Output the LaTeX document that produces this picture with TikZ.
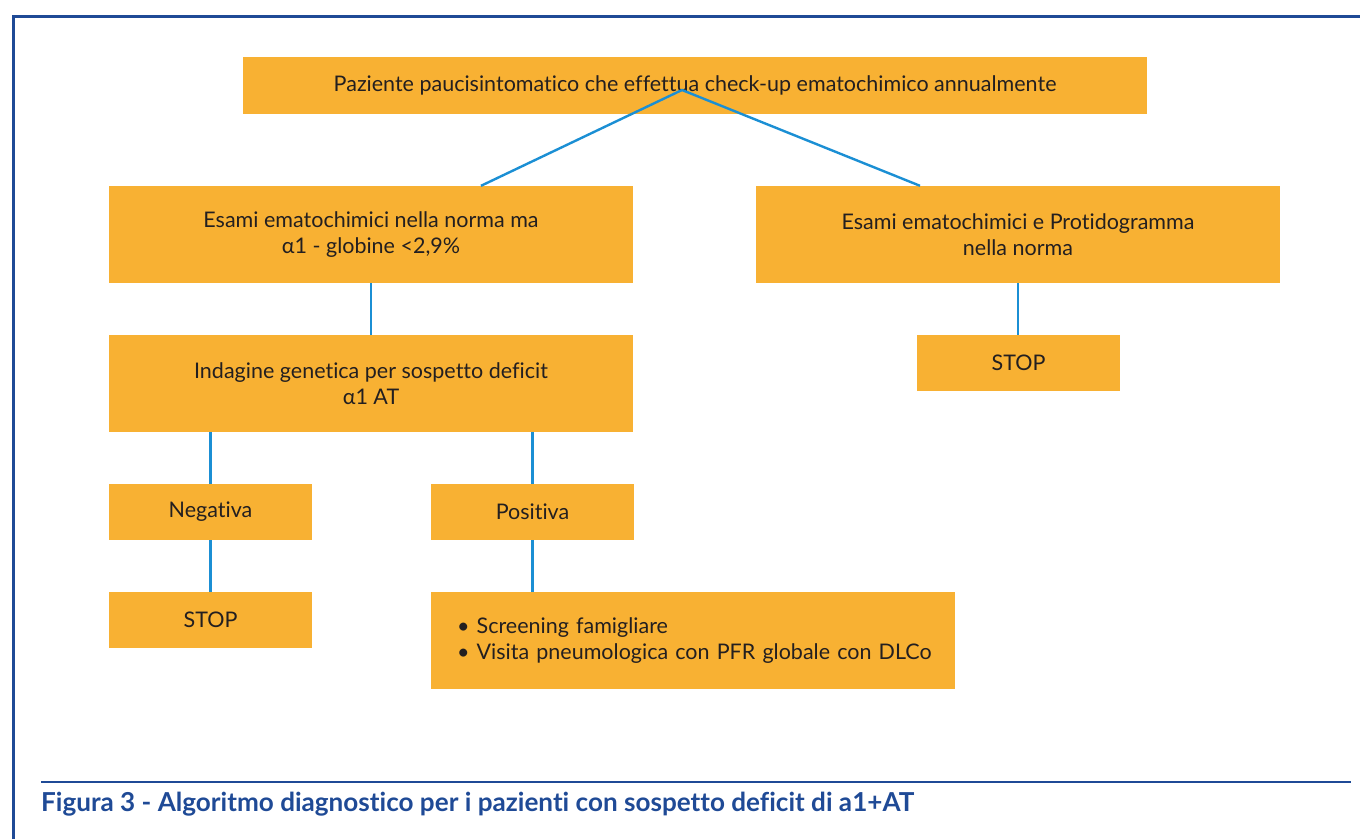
\documentclass[tikz,border=0pt]{standalone}
\usepackage{fontspec}
\setmainfont{Lato}[Ligatures={NoCommon}]
\usepackage{xcolor}
\usetikzlibrary{positioning}
\definecolor{boxorange}{HTML}{F8B133}
\definecolor{linkblue}{HTML}{1B8FD4}
\definecolor{framenavy}{HTML}{1F4A96}
\definecolor{textdark}{HTML}{231F20}

\begin{document}
\begin{tikzpicture}[x=1pt,y=-1pt,
    box/.style={fill=boxorange, inner sep=0pt, align=center, text=textdark,
        font=\fontsize{21.5}{26}\selectfont},
    widebox/.style={box, minimum width=524pt, minimum height=97pt},
    smallbox/.style={box, minimum width=203pt, minimum height=56pt},
    link/.style={draw=linkblue, line width=2.4pt}]
    \useasboundingbox (0,0) rectangle (1360,839);
    % frame and caption
    \draw [framenavy, line width=3pt] (13,839) -- (13,16) -- (1360,16);
    \draw [framenavy, line width=1.6pt] (41,782) -- (1351,782);
    \node (caption) [anchor=west, inner sep=0pt, text=framenavy,
        font=\fontsize{26.1}{28}\selectfont\bfseries] at (41,804)
        {Figura 3 - Algoritmo diagnostico per i pazienti con sospetto deficit di a1+AT};
    % boxes
    \node (top) [box, minimum width=904pt, minimum height=57pt] at (695,85.5)
        {Paziente paucisintomatico che effettua check-up ematochimico annualmente};
    \node (esami) [widebox] at (371,234.5)
        {Esami ematochimici nella norma ma\\α1 - globine <2,9\%};
    \node (norma) [widebox] at (1018,234.5)
        {Esami ematochimici e Protidogramma\\nella norma};
    \node (indagine) [widebox] at (371,383.5)
        {Indagine genetica per sospetto deficit\\α1 AT};
    \node (stopR) [smallbox] at (1018.5,363) {STOP};
    \node (neg) [smallbox] at (210.5,512) {Negativa};
    \node (pos) [smallbox] at (532.5,512) {Positiva};
    \node (stopL) [smallbox] at (210.5,620) {STOP};
    \node (follow) [box, align=left, inner xsep=26pt, text width=472pt,
        minimum height=97pt] at (693,640.5)
        {\mbox{• Screening famigliare}\\\mbox{• Visita pneumologica con PFR globale con DLCo}};
    % connectors
    \coordinate (apex) at (682,90);
    \draw [link] ([xshift=110pt]esami.north) -- (apex) -- ([xshift=-98pt]norma.north);
    \draw [link] (esami.south) -- (indagine.north);
    \draw [link] (norma.south) -- (norma.south |- stopR.north);
    \draw [link] (neg.north) -- (neg.north |- indagine.south);
    \draw [link] (pos.north) -- (pos.north |- indagine.south);
    \draw [link] (neg.south) -- (stopL.north);
    \draw [link] (pos.south) -- (pos.south |- follow.north);
\end{tikzpicture}
\end{document}
